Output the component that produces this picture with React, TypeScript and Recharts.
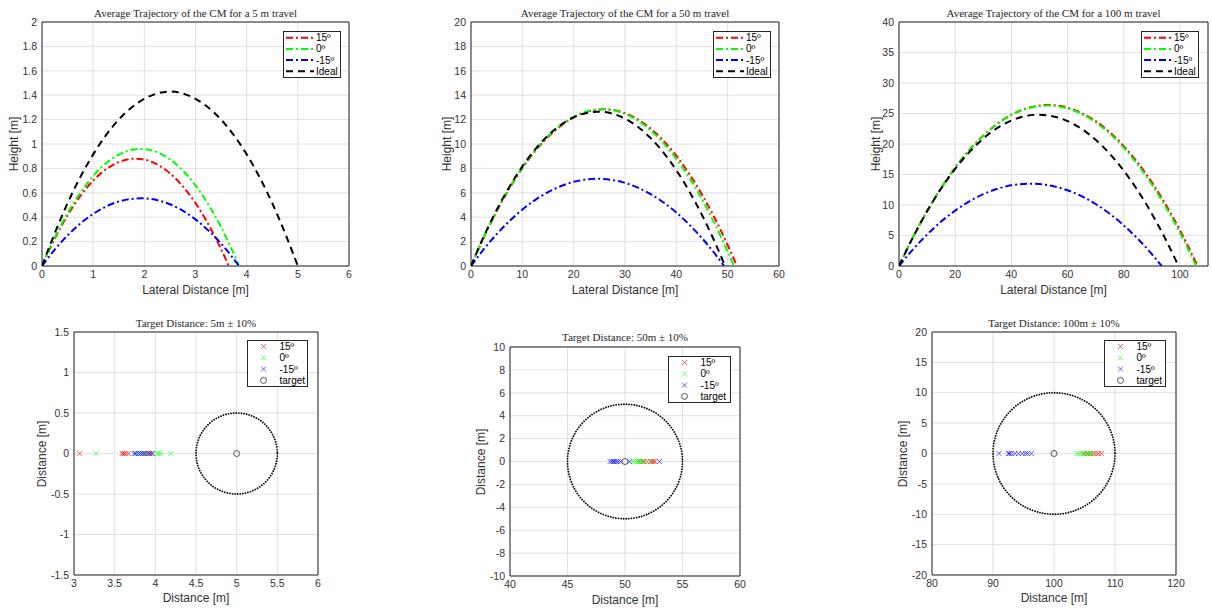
import React from "react";
import {
  LineChart,
  Line,
  ScatterChart,
  Scatter,
  XAxis,
  YAxis,
  CartesianGrid,
  ReferenceArea,
} from "recharts";

// ---- average CM trajectories: [lateral distance (m), height (m)] ----
const traj5Red = [[0, 0], [0.25, 0.224], [0.5, 0.416], [0.75, 0.575], [1, 0.7], [1.5, 0.852], [1.83, 0.88], [2.5, 0.76], [3, 0.515], [3.25, 0.343], [3.5, 0.139], [3.65, 0]];
const traj5Green = [[0, 0], [0.25, 0.233], [0.5, 0.434], [0.75, 0.6], [1, 0.738], [1.5, 0.913], [1.92, 0.96], [2.5, 0.875], [3, 0.66], [3.25, 0.505], [3.5, 0.318], [3.7, 0.144], [3.85, 0]];
const traj5Blue = [[0, 0], [0.25, 0.135], [0.5, 0.251], [0.75, 0.349], [1, 0.427], [1.5, 0.528], [1.95, 0.555], [2.5, 0.506], [3, 0.382], [3.25, 0.292], [3.5, 0.184], [3.7, 0.083], [3.85, 0]];
const traj5Ideal = [[0, 0], [0.25, 0.27], [0.5, 0.515], [0.75, 0.73], [1, 0.915], [1.5, 1.2], [2, 1.37], [2.5, 1.43], [3, 1.37], [3.5, 1.2], [4, 0.915], [4.25, 0.73], [4.5, 0.515], [4.75, 0.27], [5, 0]];

const traj50Red = [[0, 0], [2.5, 2.36], [5, 4.48], [7.5, 6.36], [10, 8.01], [15, 10.57], [20, 12.18], [25.9, 12.85], [30, 12.53], [35, 11.26], [40, 9.04], [42.5, 7.57], [45, 5.86], [47.5, 3.91], [50, 1.72], [51.8, 0]];
const traj50Green = [[0, 0], [2.5, 2.39], [5, 4.53], [7.5, 6.43], [10, 8.08], [15, 10.65], [20, 12.23], [25.6, 12.85], [30, 12.47], [35, 11.12], [40, 8.78], [42.5, 7.25], [45, 5.47], [47.5, 3.45], [50, 1.18], [51.2, 0]];
const traj50Blue = [[0, 0], [2.5, 1.38], [5, 2.61], [7.5, 3.69], [10, 4.63], [15, 6.05], [20, 6.9], [24.65, 7.15], [30, 6.81], [35, 5.89], [40, 4.38], [42.5, 3.4], [45, 2.28], [47.5, 1.01], [49.3, 0]];
const traj50Ideal = [[0, 0], [2.5, 2.43], [5, 4.59], [7.5, 6.5], [10, 8.16], [15, 10.69], [20, 12.18], [24.75, 12.65], [30, 12.08], [35, 10.48], [40, 7.85], [42.5, 6.14], [45, 4.18], [47.5, 1.96], [49.5, 0]];

const traj100Red = [[0, 0], [5, 4.73], [10, 9.0], [15, 12.8], [20, 16.13], [30, 21.39], [40, 24.78], [53.15, 26.4], [60, 25.96], [70, 23.75], [80, 19.66], [85, 16.92], [90, 13.7], [95, 10.03], [100, 5.89], [103, 3.17], [106.3, 0]];
const traj100Green = [[0, 0], [5, 4.74], [10, 9.0], [15, 12.8], [20, 16.13], [30, 21.37], [40, 24.74], [52.9, 26.3], [60, 25.83], [70, 23.55], [80, 19.4], [85, 16.61], [90, 13.36], [95, 9.65], [100, 5.45], [103, 2.71], [105.8, 0]];
const traj100Blue = [[0, 0], [5, 2.73], [10, 5.16], [15, 7.28], [20, 9.08], [30, 11.77], [40, 13.22], [46.75, 13.5], [55, 13.08], [60, 12.42], [70, 10.16], [80, 6.67], [85, 4.46], [90, 1.95], [93.5, 0]];
const traj100Ideal = [[0, 0], [5, 4.73], [10, 8.97], [15, 12.7], [20, 15.93], [30, 20.89], [40, 23.85], [49.75, 24.8], [60, 23.75], [70, 20.69], [80, 15.63], [85, 12.35], [90, 8.57], [95, 4.29], [99.5, 0]];

// ---- landing points along the travel direction (m), lateral offset 0 ----
const hits5Red = [3.07, 3.59, 3.6, 3.62, 3.64, 3.67, 3.86, 3.92, 3.95];
const hits5Green = [3.27, 3.75, 3.8, 3.88, 3.97, 4.02, 4.04, 4.07, 4.19];
const hits5Blue = [3.74, 3.76, 3.79, 3.82, 3.84, 3.87, 3.9, 3.93, 3.96];
const hits50Red = [51.3, 51.6, 51.9, 52.2, 52.35, 52.5, 52.6];
const hits50Green = [50.7, 50.9, 51.1, 51.2, 51.35, 51.5, 51.7, 52.3];
const hits50Blue = [48.7, 48.85, 49.0, 49.1, 49.25, 49.4, 49.6, 50.4, 53.0];
const hits100Red = [104.9, 105.5, 106.0, 106.5, 106.9, 107.3, 107.8];
const hits100Green = [103.8, 104.2, 104.6, 105.0, 105.3, 105.6, 105.9, 106.2];
const hits100Blue = [91.0, 92.5, 92.7, 93.0, 93.6, 94.2, 94.8, 95.3, 95.7, 96.3];

const targets = [5, 50, 100];
const tolerances = [0.5, 5, 10];

// ---- ticks ----
const x5Ticks = [0, 1, 2, 3, 4, 5, 6];
const y5Ticks = [0, 0.2, 0.4, 0.6, 0.8, 1, 1.2, 1.4, 1.6, 1.8, 2];
const x50Ticks = [0, 10, 20, 30, 40, 50, 60];
const y50Ticks = [0, 2, 4, 6, 8, 10, 12, 14, 16, 18, 20];
const x100Ticks = [0, 20, 40, 60, 80, 100];
const y100Ticks = [0, 5, 10, 15, 20, 25, 30, 35, 40];
const hx5Ticks = [3, 3.5, 4, 4.5, 5, 5.5, 6];
const hy5Ticks = [-1.5, -1, -0.5, 0, 0.5, 1, 1.5];
const hx50Ticks = [40, 45, 50, 55, 60];
const hy50Ticks = [-10, -8, -6, -4, -2, 0, 2, 4, 6, 8, 10];
const hx100Ticks = [80, 90, 100, 110, 120];
const hy100Ticks = [-20, -15, -10, -5, 0, 5, 10, 15, 20];

const RED = "#ff0000";
const GREEN = "#00ff00";
const BLUE = "#0000ff";
const BLACK = "#000000";
const AXIS = "#262626";
const DASHDOT = "7 3 2 3";
const DASHED = "7 5";
const SANS = "'Liberation Sans', Arial, sans-serif";
const SERIF = "'Liberation Serif', 'Times New Roman', serif";

const PAD_L = 40;
const PAD_T = 8;
const PAD_B = 18;

type Box = { x: number; y: number; w: number; h: number };

const pts = (a: number[][]) => a.map(([x, y]) => ({ x, y }));
const onLine = (a: number[]) => a.map((x) => ({ x, y: 0 }));

const tickStyle = { fontSize: 10.5, fill: "#333", fontFamily: SANS };

function axes(xDomain: number[], yDomain: number[], xTicks: number[], yTicks: number[]) {
  return [
    <CartesianGrid key="g" stroke="#e0e0e0" />,
    <XAxis
      key="x"
      type="number"
      dataKey="x"
      domain={xDomain}
      ticks={xTicks}
      interval={0}
      allowDataOverflow
      height={PAD_B}
      tickLine={false}
      axisLine={false}
      tickSize={3}
      tickMargin={2}
      tick={tickStyle}
    />,
    <YAxis
      key="y"
      type="number"
      dataKey="y"
      domain={yDomain}
      ticks={yTicks}
      interval={0}
      allowDataOverflow
      width={PAD_L}
      tickLine={false}
      axisLine={false}
      tickSize={3}
      tickMargin={2}
      tick={tickStyle}
    />,
  ];
}

function boxFrame(xDomain: number[], yDomain: number[]) {
  return (
    <ReferenceArea
      x1={xDomain[0]}
      x2={xDomain[1]}
      y1={yDomain[0]}
      y2={yDomain[1]}
      fill="none"
      stroke={AXIS}
      strokeOpacity={1}
    />
  );
}

function Labels({ box, title, titleY, xLabel, xLabelY, yLabel, yLabelX }: {
  box: Box; title: string; titleY: number; xLabel: string; xLabelY: number; yLabel: string; yLabelX: number;
}) {
  const cx = box.x + box.w / 2;
  const cy = box.y + box.h / 2;
  return (
    <>
      <div style={{ position: "absolute", left: cx - 200, top: titleY - 7, width: 400, lineHeight: "14px", textAlign: "center", fontFamily: SERIF, fontSize: 11, color: AXIS, whiteSpace: "nowrap" }}>
        {title}
      </div>
      <div style={{ position: "absolute", left: cx - 100, top: xLabelY - 8, width: 200, lineHeight: "16px", textAlign: "center", fontFamily: SANS, fontSize: 12, color: "#333" }}>
        {xLabel}
      </div>
      <div style={{ position: "absolute", left: yLabelX - 60, top: cy - 8, width: 120, lineHeight: "16px", textAlign: "center", fontFamily: SANS, fontSize: 12, color: "#333", transform: "rotate(-90deg)" }}>
        {yLabel}
      </div>
    </>
  );
}

function LineLegend({ x, y }: { x: number; y: number }) {
  const items = [
    { label: "15º", color: RED, dash: DASHDOT },
    { label: "0º", color: GREEN, dash: DASHDOT },
    { label: "-15º", color: BLUE, dash: DASHDOT },
    { label: "Ideal", color: BLACK, dash: DASHED },
  ];
  return (
    <svg style={{ position: "absolute", left: x, top: y }} width={58} height={47}>
      <rect x={0.5} y={0.5} width={57} height={46} fill="#fff" stroke={AXIS} />
      {items.map((it, i) => {
        const cy = 6.7 + i * 11.2;
        return (
          <g key={it.label}>
            <line x1={3} x2={31} y1={cy} y2={cy} stroke={it.color} strokeWidth={2} strokeDasharray={it.dash} />
            <text x={33} y={cy} dominantBaseline="central" fontSize={10} fontFamily={SANS} fill="#000">
              {it.label}
            </text>
          </g>
        );
      })}
    </svg>
  );
}

function crossPath(cx: number, cy: number, s: number) {
  return `M${cx - s},${cy - s}L${cx + s},${cy + s}M${cx - s},${cy + s}L${cx + s},${cy - s}`;
}

function HitsLegend({ x, y, w }: { x: number; y: number; w: number }) {
  const items = [
    { label: "15º", color: RED },
    { label: "0º", color: GREEN },
    { label: "-15º", color: BLUE },
    { label: "target", color: "" },
  ];
  return (
    <svg style={{ position: "absolute", left: x, top: y }} width={w} height={47}>
      <rect x={0.5} y={0.5} width={w - 1} height={46} fill="#fff" stroke={AXIS} />
      {items.map((it, i) => {
        const cy = 6.5 + i * 11.3;
        return (
          <g key={it.label}>
            {it.color ? (
              <path d={crossPath(16.5, cy, 2.5)} stroke={it.color} strokeOpacity={0.6} fill="none" />
            ) : (
              <circle cx={16.5} cy={cy} r={3} fill="none" stroke="#555" />
            )}
            <text x={32.5} y={cy} dominantBaseline="central" fontSize={10} fontFamily={SANS} fill="#000">
              {it.label}
            </text>
          </g>
        );
      })}
    </svg>
  );
}

function TrajPanel({ box, padR, xDomain, yDomain, xTicks, yTicks, red, green, blue, ideal, title, yLabelX, legendX }: {
  box: Box; padR: number; xDomain: number[]; yDomain: number[]; xTicks: number[]; yTicks: number[];
  red: number[][]; green: number[][]; blue: number[][]; ideal: number[][]; title: string; yLabelX: number; legendX: number;
}) {
  const line = (d: number[][], color: string, dash: string) => (
    <Line
      data={pts(d)}
      dataKey="y"
      type="monotone"
      stroke={color}
      strokeWidth={2}
      strokeDasharray={dash}
      dot={false}
      activeDot={false}
      isAnimationActive={false}
    />
  );
  return (
    <>
      <div style={{ position: "absolute", left: box.x - PAD_L, top: box.y - PAD_T }}>
        <LineChart
          width={box.w + PAD_L + padR}
          height={box.h + PAD_T + PAD_B}
          margin={{ top: PAD_T, right: padR, bottom: 0, left: 0 }}
        >
          {axes(xDomain, yDomain, xTicks, yTicks)}
          {line(red, RED, DASHDOT)}
          {line(green, GREEN, DASHDOT)}
          {line(blue, BLUE, DASHDOT)}
          {line(ideal, BLACK, DASHED)}
          {boxFrame(xDomain, yDomain)}
        </LineChart>
      </div>
      <Labels box={box} title={title} titleY={13} xLabel="Lateral Distance [m]" xLabelY={289.5} yLabel="Height [m]" yLabelX={yLabelX} />
      <LineLegend x={legendX} y={31} />
    </>
  );
}

function HitsPanel({ box, xDomain, yDomain, xTicks, yTicks, red, green, blue, target, tol, title, titleY, xLabelY, yLabelX, legend }: {
  box: Box; xDomain: number[]; yDomain: number[]; xTicks: number[]; yTicks: number[];
  red: number[]; green: number[]; blue: number[]; target: number; tol: number; title: string;
  titleY: number; xLabelY: number; yLabelX: number; legend: { x: number; y: number; w: number };
}) {
  const padR = 12;
  const rx = (tol * box.w) / (xDomain[1] - xDomain[0]);
  const ry = (tol * box.h) / (yDomain[1] - yDomain[0]);
  const cross = (color: string) => (p: any) => (
    <path d={crossPath(p.cx, p.cy, 2.5)} stroke={color} strokeOpacity={0.6} strokeWidth={1} fill="none" />
  );
  const ring = (p: any) => (
    <ellipse cx={p.cx} cy={p.cy} rx={rx} ry={ry} fill="none" stroke="#000" strokeWidth={1.8} strokeDasharray="0.01 2.6" strokeLinecap="round" />
  );
  const mark = (p: any) => <circle cx={p.cx} cy={p.cy} r={3} fill="none" stroke="#555" strokeWidth={1} />;
  return (
    <>
      <div style={{ position: "absolute", left: box.x - PAD_L, top: box.y - PAD_T }}>
        <ScatterChart
          width={box.w + PAD_L + padR}
          height={box.h + PAD_T + PAD_B}
          margin={{ top: PAD_T, right: padR, bottom: 0, left: 0 }}
        >
          {axes(xDomain, yDomain, xTicks, yTicks)}
          <Scatter data={onLine(red)} shape={cross(RED)} isAnimationActive={false} />
          <Scatter data={onLine(green)} shape={cross(GREEN)} isAnimationActive={false} />
          <Scatter data={onLine(blue)} shape={cross(BLUE)} isAnimationActive={false} />
          <Scatter data={[{ x: target, y: 0 }]} shape={mark} isAnimationActive={false} />
          <Scatter data={[{ x: target, y: 0 }]} shape={ring} isAnimationActive={false} />
          {boxFrame(xDomain, yDomain)}
        </ScatterChart>
      </div>
      <Labels box={box} title={title} titleY={titleY} xLabel="Distance [m]" xLabelY={xLabelY} yLabel="Distance [m]" yLabelX={yLabelX} />
      <HitsLegend x={legend.x} y={legend.y} w={legend.w} />
    </>
  );
}

export default function App() {
  return (
    <div style={{ position: "absolute", left: 0, top: 0, width: 1211, height: 608, background: "#fff", overflow: "hidden" }}>
      <TrajPanel
        box={{ x: 42, y: 22, w: 307, h: 244 }} padR={12}
        xDomain={[0, 6]} yDomain={[0, 2]} xTicks={x5Ticks} yTicks={y5Ticks}
        red={traj5Red} green={traj5Green} blue={traj5Blue} ideal={traj5Ideal}
        title="Average Trajectory of the CM for a 5 m travel" yLabelX={14} legendX={283}
      />
      <TrajPanel
        box={{ x: 471, y: 22, w: 308, h: 244 }} padR={12}
        xDomain={[0, 60]} yDomain={[0, 20]} xTicks={x50Ticks} yTicks={y50Ticks}
        red={traj50Red} green={traj50Green} blue={traj50Blue} ideal={traj50Ideal}
        title="Average Trajectory of the CM for a 50 m travel" yLabelX={447} legendX={713}
      />
      <TrajPanel
        box={{ x: 899, y: 22, w: 309, h: 244 }} padR={2}
        xDomain={[0, 110]} yDomain={[0, 40]} xTicks={x100Ticks} yTicks={y100Ticks}
        red={traj100Red} green={traj100Green} blue={traj100Blue} ideal={traj100Ideal}
        title="Average Trajectory of the CM for a 100 m travel" yLabelX={876} legendX={1141}
      />
      <HitsPanel
        box={{ x: 74, y: 332, w: 244, h: 243 }}
        xDomain={[3, 6]} yDomain={[-1.5, 1.5]} xTicks={hx5Ticks} yTicks={hy5Ticks}
        red={hits5Red} green={hits5Green} blue={hits5Blue} target={targets[0]} tol={tolerances[0]}
        title="Target Distance: 5m ± 10%" titleY={322.6} xLabelY={597.7} yLabelX={42}
        legend={{ x: 247, y: 340, w: 61 }}
      />
      <HitsPanel
        box={{ x: 510, y: 347, w: 230, h: 229 }}
        xDomain={[40, 60]} yDomain={[-10, 10]} xTicks={hx50Ticks} yTicks={hy50Ticks}
        red={hits50Red} green={hits50Green} blue={hits50Blue} target={targets[1]} tol={tolerances[1]}
        title="Target Distance: 50m ± 10%" titleY={336.7} xLabelY={600} yLabelX={481}
        legend={{ x: 668, y: 356, w: 63 }}
      />
      <HitsPanel
        box={{ x: 932, y: 332, w: 244, h: 243 }}
        xDomain={[80, 120]} yDomain={[-20, 20]} xTicks={hx100Ticks} yTicks={hy100Ticks}
        red={hits100Red} green={hits100Green} blue={hits100Blue} target={targets[2]} tol={tolerances[2]}
        title="Target Distance: 100m ± 10%" titleY={322.6} xLabelY={597.7} yLabelX={903}
        legend={{ x: 1104, y: 340, w: 62 }}
      />
    </div>
  );
}
